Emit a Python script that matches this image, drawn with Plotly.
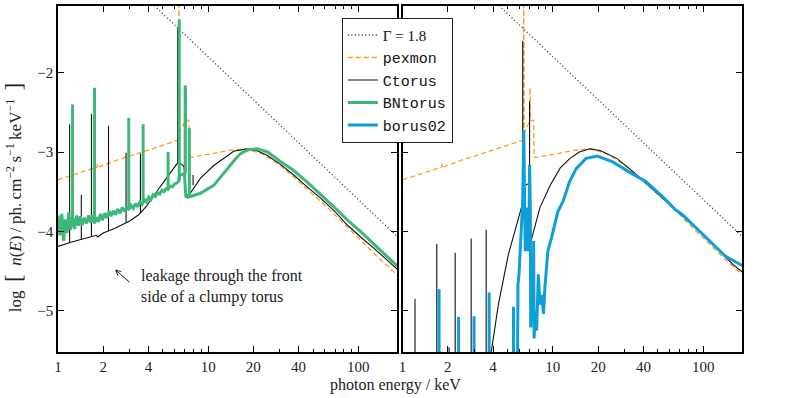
import plotly.graph_objects as go

# ---- data ----
gamma_E = [1.0, 200.0]
gamma_y = [0.0, -4.14]

pexmon_E = [1.0, 1.5, 1.82, 1.83, 1.86, 2.5, 3.5, 4.5, 5.5, 6.35, 6.4, 6.45, 7.0, 7.05, 7.1, 7.45, 7.5,
            8.2, 10.0, 13.7, 17.7, 22.8, 29.4, 37.9, 49.0, 63.2, 81.6, 105.0, 136.0, 175.0, 190.0]
pexmon_y = [-3.35, -3.24, -3.19, -3.15, -3.19, -3.10, -3.01, -2.945, -2.89, -2.85, -0.9, -2.75, -2.62, -2.19, -2.60, -2.60, -3.07,
            -3.06, -3.03, -2.98, -2.96, -3.02, -3.15, -3.33, -3.52, -3.71, -3.92, -4.125, -4.33, -4.52, -4.58]

# Ctorus, left panel
ctL_E = [1.0, 1.2, 1.5, 1.8, 1.84, 2.0, 2.4, 3.0, 3.45, 3.9, 4.23, 4.8, 5.46, 6.0, 6.3, 6.6, 6.9, 7.1,
         7.6, 8.9, 10.9, 14.8, 18.2, 21.0, 24.7, 30.0, 37.2, 45.0, 56.1, 70.0, 84.5, 105.0, 127.0, 155.0, 190.0]
ctL_y = [-4.19, -4.14, -4.09, -4.05, -4.07, -4.02, -3.96, -3.87, -3.79, -3.68, -3.58, -3.44, -3.29, -3.18, -3.13, -3.15, -3.18, -3.56,
         -3.52, -3.33, -3.17, -2.99, -2.96, -2.98, -3.04, -3.15, -3.29, -3.43, -3.58, -3.75, -3.92, -4.08, -4.21, -4.36, -4.51]
ctL_line_E = [1.195, 1.43, 1.67, 2.17, 2.84, 3.54, 6.27, 6.95, 7.94]
ctL_line_base = [-4.14, -4.10, -4.06, -4.00, -3.89, -3.77, -3.13, -3.20, -3.42]
ctL_line_peak = [-2.65, -3.54, -2.52, -2.67, -3.01, -3.02, -1.44, -2.17, -3.29]

# BNtorus, left panel
bn_E = [1.00, 1.03, 1.06, 1.09, 1.12, 1.15, 1.18, 1.21, 1.25, 1.29, 1.33, 1.37, 1.41, 1.45, 1.50, 1.55,
        1.60, 1.65, 1.70, 1.75, 1.80, 1.86, 1.92, 1.98, 2.05, 2.12, 2.19, 2.26, 2.34, 2.42, 2.50, 2.59,
        2.68, 2.77, 2.87, 2.96, 3.06, 3.17, 3.28, 3.39, 3.51, 3.63, 3.76, 3.89, 4.02, 4.16, 4.30, 4.45,
        4.60, 4.76, 4.92, 5.09, 5.26, 5.41, 5.60, 5.79, 5.99, 6.20, 6.35,
        6.45, 6.7, 6.95, 7.1, 7.3, 7.6, 8.9, 10.9, 12.0, 13.4, 15.0, 16.4, 18.5, 21.2, 25.0, 30.3,
        37.0, 45.7, 56.0, 68.8, 85.0, 103.5, 127.0, 156.0, 190.0]
bn_y = [-3.80, -4.05, -3.78, -4.12, -3.85, -4.02, -3.76, -3.98, -3.82, -3.97, -3.80, -3.93, -3.81, -3.92, -3.83, -3.90,
        -3.80, -3.89, -3.80, -3.90, -3.82, -3.88, -3.78, -3.86, -3.77, -3.83, -3.74, -3.81, -3.74, -3.79, -3.72, -3.77,
        -3.70, -3.75, -3.69, -3.73, -3.67, -3.71, -3.65, -3.69, -3.63, -3.66, -3.60, -3.63, -3.57, -3.60, -3.54, -3.56,
        -3.51, -3.53, -3.48, -3.50, -3.46, -3.47, -3.43, -3.44, -3.40, -3.39, -3.37,
        -3.30, -3.28, -3.27, -3.56, -3.57, -3.56, -3.52, -3.42, -3.32, -3.21, -3.10, -3.02, -2.97, -2.96, -3.00, -3.12,
        -3.23, -3.38, -3.53, -3.69, -3.86, -4.00, -4.16, -4.32, -4.47]
bn_line_E = [1.25, 1.75, 2.96, 3.69, 5.41, 6.42, 7.06, 7.5]
bn_line_base = [-3.85, -3.86, -3.72, -3.63, -3.46, -3.36, -3.27, -3.56]
bn_line_peak = [-2.40, -2.19, -2.57, -2.65, -3.00, -1.33, -2.16, -2.70]

# Ctorus, right panel
ctR_E = [3.7, 3.93, 4.34, 5.06, 5.6, 6.2, 6.35, 6.5, 6.9, 7.0, 7.1, 7.4, 8.2, 9.6, 11.2, 13.0, 15.0,
         17.7, 20.6, 26.6, 34.3, 44.2, 57.1, 73.6, 95.0, 123.0, 158.0, 190.0]
ctR_y = [-5.8, -5.46, -4.92, -4.29, -4.0, -3.68, -3.62, -3.42, -3.40, -3.42, -4.14, -4.02, -3.70, -3.42, -3.20, -3.08, -3.00,
         -2.96, -2.98, -3.08, -3.25, -3.44, -3.625, -3.81, -4.00, -4.21, -4.42, -4.54]
ctR_line_E = [1.21, 1.69, 2.04, 2.24, 2.86, 3.6, 6.3, 7.0]
ctR_line_base = [-6.0, -6.0, -6.0, -6.0, -6.0, -6.0, -3.64, -3.41]
ctR_line_peak = [-4.85, -4.16, -5.46, -4.27, -4.09, -3.98, -1.60, -2.36]

# borus02, right panel
bo_E = [5.8, 5.86, 5.95, 6.05, 6.2, 6.3, 6.4, 6.45, 6.55, 6.65, 6.75, 6.85, 6.95, 7.0, 7.08, 7.12, 7.25,
        7.4, 7.45, 7.5, 7.65, 7.8, 8.0, 8.2, 8.45, 8.66, 8.85, 9.05, 9.26, 9.8, 10.25, 10.8, 11.7, 12.9,
        14.3, 16.6, 19.8, 25.0, 32.1, 41.7, 53.5, 64.7, 72.8, 104.0, 140.0, 190.0]
bo_y = [-6.0, -4.67, -4.55, -4.25, -4.0, -3.62, -2.73, -3.6, -4.25, -3.7, -4.1, -4.25, -3.8, -3.16, -3.7, -5.21, -4.95,
        -5.1, -4.12, -5.35, -5.0, -5.25, -4.54, -4.92, -4.8, -5.04, -4.71, -4.45, -4.25, -4.08, -3.92, -3.75, -3.62, -3.375,
        -3.21, -3.08, -3.05, -3.125, -3.25, -3.375, -3.56, -3.72, -3.79, -4.08, -4.31, -4.45]
bo_line_E = [1.75, 2.36, 2.99, 3.77, 5.47]
bo_line_base = [-6.0, -6.0, -6.0, -6.0, -6.0]
bo_line_peak = [-4.73, -5.08, -5.07, -4.77, -4.95]

xtick_vals = [1, 2, 4, 10, 20, 40, 100]
xtick_text = ['1', '2', '4', '10', '20', '40', '100']
xminor_vals = [3, 5, 6, 7, 8, 9, 30, 50, 60, 70, 80, 90]

# ---- style ----
SERIF = 'Liberation Serif'
MONO = 'Liberation Mono'
C_GAM = '#333333'
C_PEX = '#ff9a26'
C_CT = '#111111'
C_BN = '#3cb878'
C_BO = '#0e9fd8'
DOTS = '1px,2.5px'
DASHES = '5px,3px'


def spikes(E, base, peak):
    xs, ys = [], []
    for e, b, p in zip(E, base, peak):
        xs += [e, e, None]
        ys += [b, p, None]
    return xs, ys


fig = go.Figure()

def add(x, y, ax, color, width, dash='solid', name=None, legend=False):
    fig.add_trace(go.Scatter(x=x, y=y, mode='lines', name=name, showlegend=legend,
                             line=dict(color=color, width=width, dash=dash),
                             xaxis='x' if ax == 1 else 'x2', yaxis='y' if ax == 1 else 'y2'))

# left panel
add(gamma_E, gamma_y, 1, C_GAM, 1.3, DOTS, '<span style="font-family:Liberation Serif">Γ = 1.8</span>', True)
add(pexmon_E, pexmon_y, 1, C_PEX, 1.3, DASHES, 'pexmon', True)
add(ctL_E, ctL_y, 1, C_CT, 1.1, name='Ctorus', legend=True)
sx, sy = spikes(ctL_line_E, ctL_line_base, ctL_line_peak)
add(sx, sy, 1, C_CT, 1.1)
add(bn_E, bn_y, 1, C_BN, 3, name='BNtorus', legend=True)
sx, sy = spikes(bn_line_E, bn_line_base, bn_line_peak)
add(sx, sy, 1, C_BN, 3)

# right panel
add(gamma_E, gamma_y, 2, C_GAM, 1.3, DOTS)
add(pexmon_E, pexmon_y, 2, C_PEX, 1.3, DASHES)
add(ctR_E, ctR_y, 2, C_CT, 1.1)
sx, sy = spikes(ctR_line_E, ctR_line_base, ctR_line_peak)
add(sx, sy, 2, C_CT, 1.1)
add(bo_E, bo_y, 2, C_BO, 3, name='borus02', legend=True)
sx, sy = spikes(bo_line_E, bo_line_base, bo_line_peak)
add(sx, sy, 2, C_BO, 3)

xax = dict(type='log', range=[0, 2.258], tickmode='array', tickvals=xtick_vals, ticktext=xtick_text,
           ticks='inside', ticklen=6, tickwidth=1, tickcolor='black',
           minor=dict(ticks='inside', ticklen=3, tickwidth=1, tickcolor='black', tickvals=xminor_vals),
           showline=True, linewidth=1.5, linecolor='black', mirror='ticks', showgrid=False, zeroline=False,
           tickfont=dict(family=SERIF, size=15, color='#222'))
yax = dict(range=[-5.52, -1.16], tickmode='array', tickvals=[-5, -4, -3, -2],
           ticks='inside', ticklen=6, tickwidth=1, tickcolor='black',
           showline=True, linewidth=1.5, linecolor='black', mirror='ticks', showgrid=False, zeroline=False,
           tickfont=dict(family=SERIF, size=15, color='#222'))

fig.update_layout(
    width=789, height=398,
    margin=dict(l=58, r=47, t=4, b=46),
    plot_bgcolor='white', paper_bgcolor='white',
    xaxis=dict(xax, domain=[0, 0.4956], anchor='y'),
    xaxis2=dict(xax, domain=[0.5037, 1], anchor='y2'),
    yaxis=dict(yax, anchor='x'),
    yaxis2=dict(yax, anchor='x2', showticklabels=False),
    legend=dict(x=0.415, y=0.966, xanchor='left', yanchor='top', bgcolor='white',
                bordercolor='#222', borderwidth=1, font=dict(family=MONO, size=15, color='#111'),
                itemwidth=30, tracegroupgap=0),
    font=dict(family=SERIF, size=15, color='#222'),
)

fig.add_annotation(xref='paper', yref='paper', x=0.494, y=-0.095, xanchor='center', yanchor='middle',
                   showarrow=False, text='photon energy / keV',
                   font=dict(family=SERIF, size=16, color='#222'))
fig.add_annotation(xref='paper', yref='paper', x=-0.064, y=0.448, xanchor='center', yanchor='middle',
                   showarrow=False, textangle=-90,
                   text='log\u2002<span style="font-size:23px">[</span>\u2002<i>n</i>(<i>E</i>)\u2009/\u2009ph.\u2009cm<sup>−2</sup>\u2009s<sup>−1</sup>\u2009keV<sup>−1</sup>\u2002<span style="font-size:23px">]</span>',
                   font=dict(family=SERIF, size=17, color='#222'))
fig.add_annotation(xref='paper', yref='paper', x=0.119, y=0.188, xanchor='left', yanchor='middle',
                   align='left', showarrow=False,
                   text='leakage through the front<br>side of a clumpy torus',
                   font=dict(family=SERIF, size=16, color='#222'))
fig.add_annotation(xref='paper', yref='paper', x=0.0833, y=0.2385, ax=16, ay=14, text='',
                   showarrow=True, arrowhead=5, arrowsize=1, arrowwidth=1, arrowcolor='#222')

fig.write_html("out.html", config={'displayModeBar': False},
               post_script="document.body.style.margin='0';")
